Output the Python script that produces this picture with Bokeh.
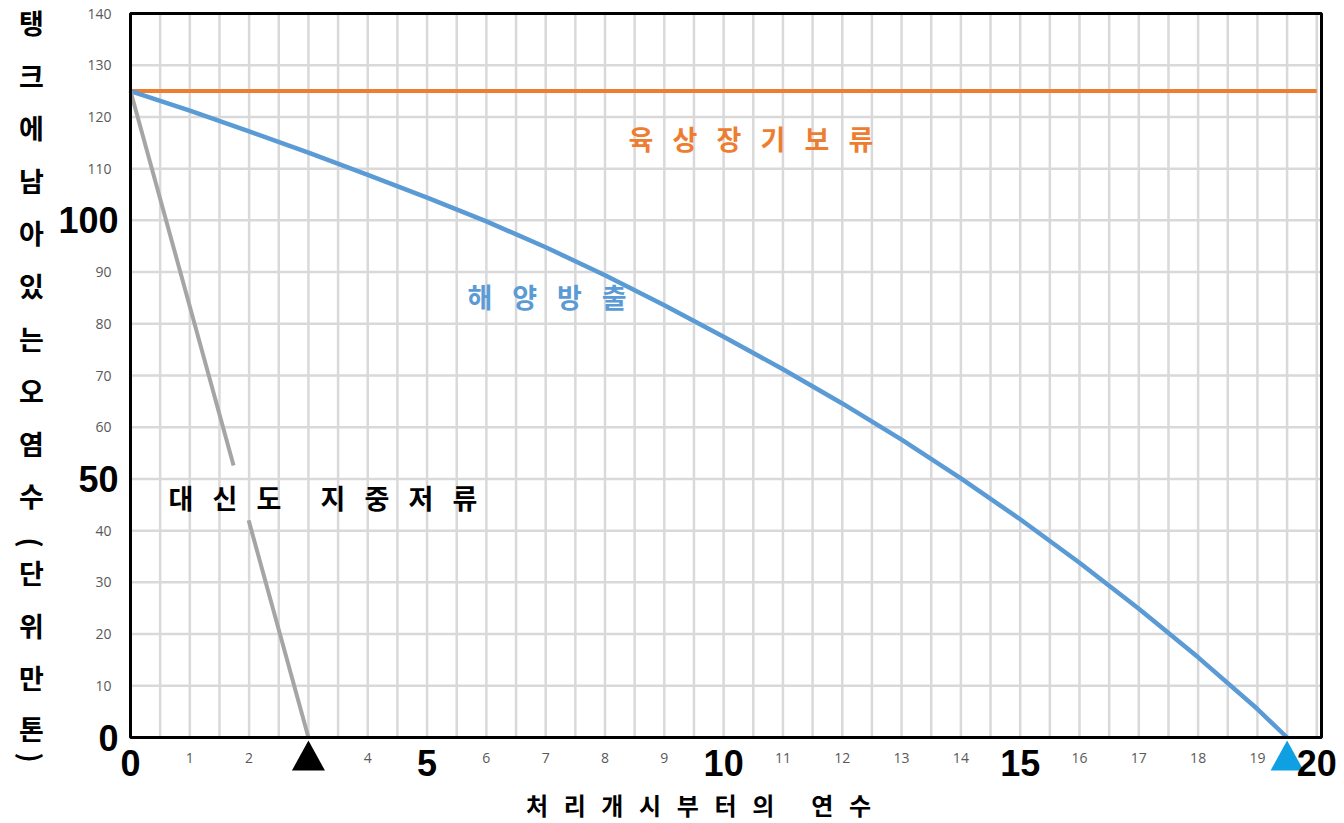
import numpy as np
from bokeh.plotting import figure
from bokeh.models import Range1d
from bokeh.core.properties import value
from bokeh.embed import file_html
from bokeh.resources import INLINE

# ---------------- data ----------------
years_ocean = [0, 1, 2, 3, 4, 5, 6, 7, 8, 9, 10, 11, 12, 13, 14, 15, 16, 17, 18, 19, 19.5]
ocean_release = [125, 121.2, 117.2, 113.1, 108.8, 104.4, 99.8, 94.8, 89.4, 83.6, 77.5,
                 71.2, 64.6, 57.6, 50.1, 42.2, 33.8, 24.9, 15.5, 5.5, 0]
years_storage = [0, 20]
land_storage = [125, 125]
years_underground = [0, 3]
underground_storage = [125, 0]

small_x_ticks = [1, 2, 4, 6, 7, 8, 9, 11, 12, 13, 14, 16, 17, 18, 19]
big_x_ticks = [0, 5, 10, 15, 20]
small_y_ticks = [10, 20, 30, 40, 60, 70, 80, 90, 110, 120, 130, 140]
big_y_ticks = [0, 50, 100]

y_title = "탱크에남아있는오염수(단위만톤)"
x_title = "처리개시부터의 연수"
label_land = "육상장기보류"
label_ocean = "해양방출"
label_under = "대신도 지중저류"

# ---------------- layout ----------------
W, H = 1344, 823
X_MAX, Y_MAX = 20.08, 140            # visible chart area
FL, FR, FT, FB = 130, 1321, 13, 737  # chart area in canvas pixels
sx = (FR - FL) / X_MAX
sy = (FB - FT) / Y_MAX

ORANGE = "#ED7D31"
BLUE = "#5B9BD5"
GRAY = "#A5A5A5"
TRI_BLUE = "#0FA0E4"
GRID = "#D9D9D9"
KR = "Noto Sans CJK KR"

p = figure(width=W, height=H,
           x_range=Range1d(-FL / sx, (W - FL) / sx),
           y_range=Range1d(-(H - FB) / sy, FB / sy),
           x_axis_type=None, y_axis_type=None,
           output_backend="svg", toolbar_location=None,
           min_border=0, min_border_left=0, min_border_right=0,
           min_border_top=0, min_border_bottom=0)
p.title.visible = False
p.outline_line_color = None
p.background_fill_color = "white"
p.border_fill_color = "white"

# grid
gxs = [v / 2 for v in range(1, 41)]
p.segment(x0=gxs, y0=[0] * len(gxs), x1=gxs, y1=[Y_MAX] * len(gxs),
          line_color=GRID, line_width=2.5)
gys = list(range(10, 140, 10))
p.segment(x0=[0] * len(gys), y0=gys, x1=[X_MAX] * len(gys), y1=gys,
          line_color=GRID, line_width=2.5)

# series
p.line(years_storage, land_storage, line_color=ORANGE, line_width=4)
p.line(years_ocean, ocean_release, line_color=BLUE, line_width=4.5)

# underground line, with a gap where its label sits
gap_lo, gap_hi = 42.0, 52.6
gx = np.array(years_underground, dtype=float)
gy = np.array(underground_storage, dtype=float)
order = np.argsort(gy)
def gx_at(v):
    return float(np.interp(v, gy[order], gx[order]))
p.line([gx_at(gy.max()), gx_at(gap_hi)], [gy.max(), gap_hi], line_color=GRAY, line_width=4)
p.line([gx_at(gap_lo), gx_at(gy.min())], [gap_lo, gy.min()], line_color=GRAY, line_width=4)

# chart border
p.quad(left=[0], right=[X_MAX], bottom=[0], top=[Y_MAX], fill_color=None,
       line_color="black", line_width=3)

# end markers: triangles under the axis
hw = 16.5 / sx
tri_top, tri_bot = -3 / sy, -33 / sy
ends = [(years_underground[-1], "black"), (years_ocean[-1], TRI_BLUE)]
p.patches(xs=[[e - hw, e + hw, e] for e, _ in ends],
          ys=[[tri_bot, tri_bot, tri_top] for _ in ends],
          fill_color=[c for _, c in ends], line_color=None)

# small tick labels
p.text(x=small_x_ticks, y=[-20 / sy] * len(small_x_ticks), text=[str(v) for v in small_x_ticks],
       text_font=value("Open Sans"), text_font_size="14px", text_color="#595959",
       text_align="center", text_baseline="middle")
p.text(x=[-19 / sx] * len(small_y_ticks), y=small_y_ticks, text=[str(v) for v in small_y_ticks],
       text_font=value("Open Sans"), text_font_size="14px", text_color="#595959",
       text_align="right", text_baseline="middle")

# big tick labels
p.text(x=big_x_ticks, y=[-25 / sy] * len(big_x_ticks), text=[str(v) for v in big_x_ticks],
       text_font=value("Liberation Sans"), text_font_style="bold", text_font_size="36px",
       text_color="black", text_align="center", text_baseline="middle")
p.text(x=[-12 / sx] * len(big_y_ticks), y=big_y_ticks, text=[str(v) for v in big_y_ticks],
       text_font=value("Liberation Sans"), text_font_style="bold", text_font_size="36px",
       text_color="black", text_align="right", text_baseline="middle")

# letter-spaced text (pixel pitch converted through the scale)
def spaced(text, x0_px, y_px, pitch_px, color, size, space=1.5):
    xs, chars = [], []
    x = x0_px
    for ch in text:
        if ch == " ":
            x += pitch_px * (space - 1)
            continue
        xs.append((x - FL) / sx)
        chars.append(ch)
        x += pitch_px
    p.text(x=xs, y=[(FB - y_px) / sy] * len(xs), text=chars, text_font=value(KR),
           text_font_style="bold", text_font_size=size, text_color=color,
           text_align="center", text_baseline="middle")

spaced(label_land, 640.5, 138, 44, ORANGE, "27px")
spaced(label_ocean, 479.5, 296, 44.7, BLUE, "27px")
spaced(label_under, 180.5, 497, 44, "black", "27px", space=1.45)
spaced(x_title, 536.5, 804, 37.7, "black", "24px", space=1.57)

# vertical y title (parentheses turned for vertical writing)
ypx = [22, 74.6, 127.2, 179.8, 232.4, 285, 337.6, 390.2, 442.8, 495.4,
       542, 572, 625, 677, 728, 757]
chars = list(y_title)
angles = [-np.pi / 2 if c in "()" else 0.0 for c in chars]
p.text(x=[(31 - FL) / sx] * len(ypx), y=[(FB - v) / sy for v in ypx], text=chars,
       angle=angles,
       text_font=value(KR), text_font_style="bold", text_font_size="27px",
       text_color="black", text_align="center", text_baseline="middle")

open("out.html", "w").write(file_html(p, INLINE))
